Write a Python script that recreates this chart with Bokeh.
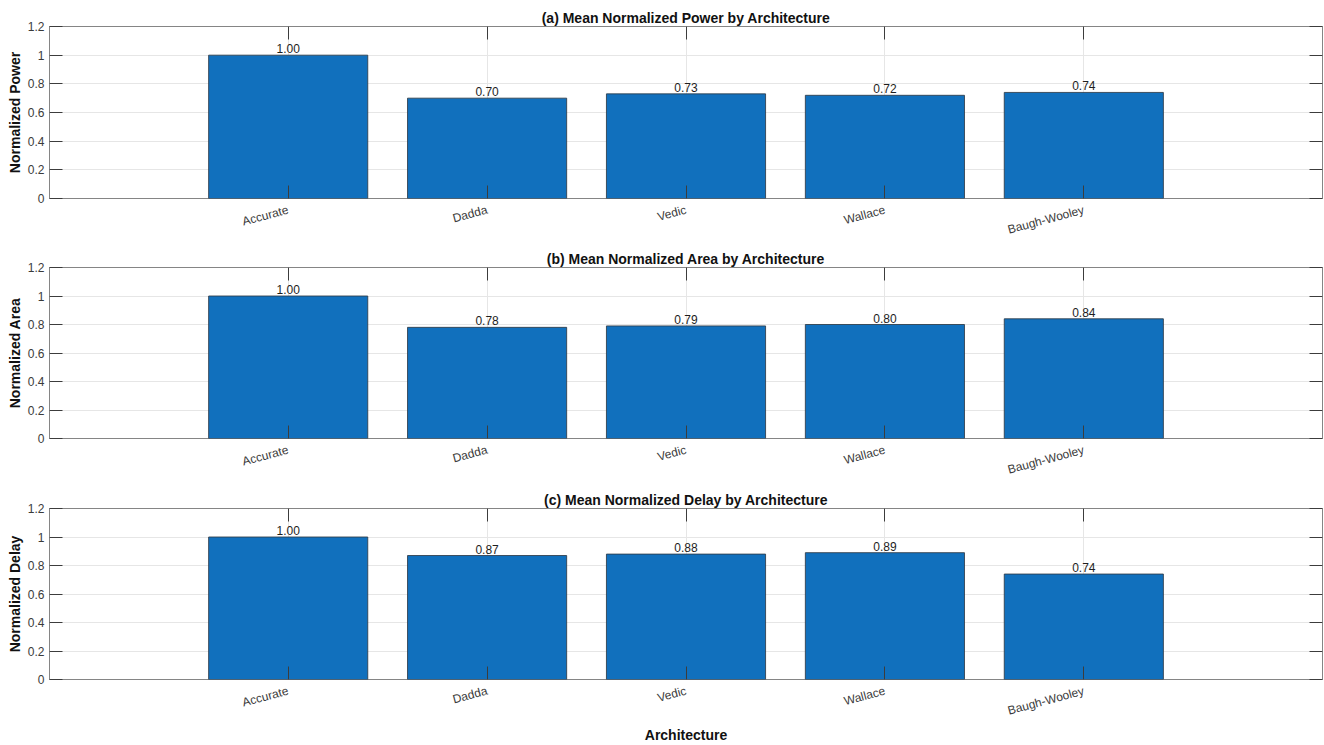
import math

from bokeh.core.properties import value
from bokeh.embed import file_html
from bokeh.layouts import column
from bokeh.models import ColumnDataSource, FixedTicker, LinearAxis, Range1d
from bokeh.plotting import figure
from bokeh.resources import INLINE

# Mean normalized metrics per multiplier architecture
architectures = ["Accurate", "Dadda", "Vedic", "Wallace", "Baugh-Wooley"]
power = [1.00, 0.70, 0.73, 0.72, 0.74]
area = [1.00, 0.78, 0.79, 0.80, 0.84]
delay = [1.00, 0.87, 0.88, 0.89, 0.74]

y_ticks = [0, 0.2, 0.4, 0.6, 0.8, 1.0, 1.2]
y_tick_labels = ["0", "0.2", "0.4", "0.6", "0.8", "1", "1.2"]

FONT = "Liberation Sans"
BAR_BLUE = "#1170bd"
BOX_GRAY = "#858585"
TICK_GRAY = "#3c3c3c"
LABEL_GRAY = "#3a3a3a"
GRID_GRAY = "#e6e6e6"


def style_axis(ax):
    ax.major_tick_in = 13
    ax.major_tick_out = 0
    ax.major_tick_line_color = TICK_GRAY
    ax.major_tick_line_width = 1
    ax.minor_tick_line_color = None
    ax.axis_line_color = None
    ax.major_label_text_font = FONT
    ax.major_label_text_font_size = "12px"
    ax.major_label_text_color = LABEL_GRAY


def make_panel(vals, title, ylabel, top_border, frame_h, bottom_border, xlabel=None):
    xs = list(range(1, len(architectures) + 1))
    p = figure(
        frame_width=1273,
        frame_height=frame_h,
        x_range=Range1d(-0.2, 6.2),
        y_range=Range1d(0, 1.2),
        output_backend="svg",
        toolbar_location=None,
        min_border_left=49,
        min_border_right=2,
        min_border_top=top_border,
        min_border_bottom=bottom_border,
        background_fill_color="white",
        border_fill_color="white",
        outline_line_color=BOX_GRAY,
        outline_line_width=1,
    )
    p.title.text = title
    p.title.align = "center"
    p.title.text_font = FONT
    p.title.text_font_size = "14px"
    p.title.text_font_style = "bold"
    p.title.text_color = "#111111"
    p.title.standoff = 2

    left = p.left[0]
    bottom = p.below[0]
    for ax in (left, bottom):
        style_axis(ax)

    left.ticker = FixedTicker(ticks=y_ticks)
    left.major_label_overrides = dict(zip(y_ticks, y_tick_labels))
    left.major_label_standoff = 5
    left.axis_label = ylabel
    left.axis_label_text_font = FONT
    left.axis_label_text_font_size = "14px"
    left.axis_label_text_font_style = "bold"
    left.axis_label_text_color = "#111111"
    left.axis_label_standoff = 2

    bottom.ticker = FixedTicker(ticks=xs)
    bottom.major_label_overrides = {i + 1: name for i, name in enumerate(architectures)}
    bottom.major_label_orientation = math.radians(15)
    bottom.major_label_standoff = 11
    if xlabel:
        bottom.axis_label = xlabel
        bottom.axis_label_text_font = FONT
        bottom.axis_label_text_font_size = "14px"
        bottom.axis_label_text_font_style = "bold"
        bottom.axis_label_text_color = "#111111"
        bottom.axis_label_standoff = 0

    # Mirror ticks on the top and right edges of the box (tick marks only)
    top = LinearAxis(ticker=FixedTicker(ticks=xs))
    right = LinearAxis(ticker=FixedTicker(ticks=y_ticks))
    for ax in (top, right):
        style_axis(ax)
        ax.major_label_text_font_size = "1px"
        ax.major_label_text_color = None
        ax.major_label_standoff = 0
    p.add_layout(top, "above")
    p.add_layout(right, "right")

    p.xgrid.grid_line_color = GRID_GRAY
    p.ygrid.grid_line_color = GRID_GRAY

    src = ColumnDataSource(dict(x=xs, top=vals, label=[f"{v:.2f}" for v in vals]))
    p.vbar(x="x", top="top", width=0.8, source=src,
           fill_color=BAR_BLUE, line_color="#2e3b48", line_width=1, line_alpha=0.85)
    p.text(x="x", y="top", text="label", source=src,
           text_align="center", text_baseline="bottom", y_offset=-2,
           text_font=value(FONT), text_font_size="12px", text_color="#1e1e1e")
    return p


p1 = make_panel(power, "(a) Mean Normalized Power by Architecture", "Normalized Power", 26, 172, 48)
p2 = make_panel(area, "(b) Mean Normalized Area by Architecture", "Normalized Area", 21, 171, 48)
p3 = make_panel(delay, "(c) Mean Normalized Delay by Architecture", "Normalized Delay", 22, 171, 65,
                xlabel="Architecture")

layout = column(p1, p2, p3)
open("out.html", "w").write(file_html(layout, INLINE))
